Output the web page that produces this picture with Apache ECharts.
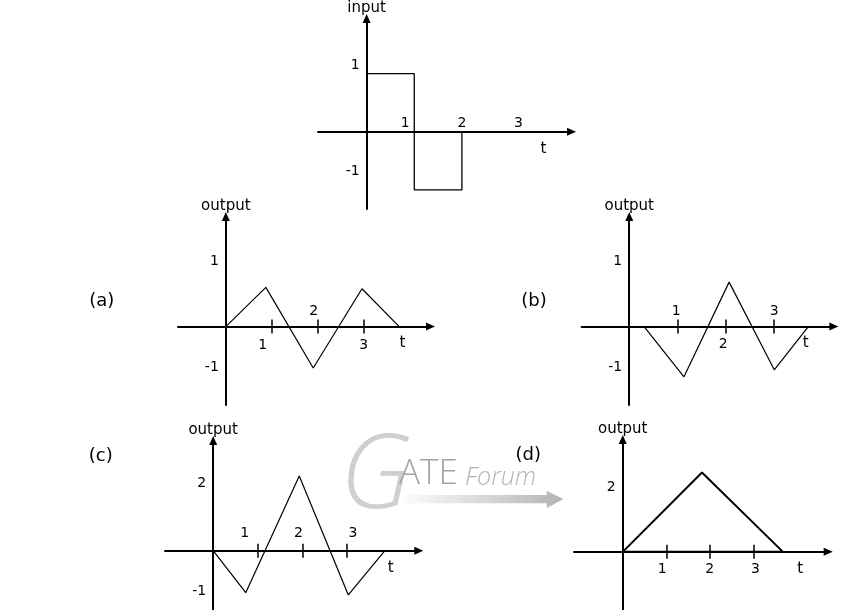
<!DOCTYPE html>
<html><head><meta charset="utf-8">
<script src="https://cdn.jsdelivr.net/npm/echarts@6/dist/echarts.min.js"></script>
<style>html,body{margin:0;padding:0;background:#fff}#c{width:851px;height:610px}</style>
</head><body><div id="c"></div>
<script>
// ---- data ----
const inputT = [0, 0, 1, 1, 2, 2];
const inputV = [0, 1, 1, -1, -1, 0];
const aT = [0, 0.87, 1.90, 2.96, 3.77];
const aV = [0, 0.89, -0.94, 0.86, 0];
const bT = [0.31, 1.14, 2.08, 3.02, 3.73];
const bV = [0, -1.14, 1.01, -0.98, 0];
const cT = [0, 0.73, 1.93, 3.03, 3.85];
const cV = [0, -1.09, 1.94, -1.15, 0];
const dT = [0, 1.82, 3.68, 0];
const dV = [0, 2.0, 0, 0];
const tTicks = [1, 2, 3];
const inputYTicks = [1, -1];
const aYTicks = [1, -1];
const bYTicks = [1, -1];
const cYTicks = [2, -1];
const dYTicks = [2];
const inputAbove = [1, 2, 3], inputBelow = [];
const aAbove = [2], aBelow = [1, 3];
const bAbove = [1, 3], bBelow = [2];
const cAbove = [1, 2, 3], cBelow = [];
const dAbove = [], dBelow = [1, 2, 3];
const panelLabels = ['(a)', '(b)', '(c)', '(d)'];
const yNames = ['input', 'output', 'output', 'output', 'output'];
const xName = 't';
const watermark = ['G', 'ATE', 'Forum'];

// ---- layout / style ----
const FONT = '"DejaVu Sans", Verdana, sans-serif';
const FS = 14;
const panels = [
  {grid:{left:318, top:18.5, width:253.5, height:190.5}, x:[-1.02, 4.30], y:[-1.33, 1.95],
   T:inputT, V:inputV, yTicks:inputYTicks, above:inputAbove, below:inputBelow, ticks:false,
   shift:{p:-8, n:-18}, xShift:{1:-9, 2:0, 3:9}, aboveMargin:1, belowMargin:12, lw:1.3},
  {grid:{left:178, top:216.5, width:252.5, height:188.5}, x:[-1.04, 4.45], y:[-1.78, 2.50],
   T:aT, V:aV, yTicks:aYTicks, above:aAbove, below:aBelow, ticks:true,
   shift:{p:-21, n:-3}, xShift:{1:-9, 2:-4, 3:0}, aboveMargin:8, belowMargin:12, lw:1.2},
  {grid:{left:581.7, top:216.5, width:252.1, height:188.5}, x:[-0.99, 4.26], y:[-1.78, 2.50],
   T:bT, V:bV, yTicks:bYTicks, above:bAbove, below:bBelow, ticks:true,
   shift:{p:-21, n:-3}, xShift:{1:-1, 2:-2, 3:1}, aboveMargin:8, belowMargin:11, lw:1.2},
  {grid:{left:165, top:440.5, width:253.8, height:174.5}, x:[-1.08, 4.61], y:[-1.67, 2.86],
   T:cT, V:cV, yTicks:cYTicks, above:cAbove, below:cBelow, ticks:true,
   shift:{p:10, n:2}, xShift:{1:-13, 2:-4, 3:6}, aboveMargin:10, belowMargin:10, lw:1.2},
  {grid:{left:574, top:439.5, width:254.2, height:175.5}, x:[-1.12, 4.72], y:[-1.59, 2.83],
   T:dT, V:dV, yTicks:dYTicks, above:dAbove, below:dBelow, ticks:true,
   shift:{p:15, n:0}, xShift:{1:-4, 2:0, 3:2}, aboveMargin:10, belowMargin:10, lw:2}
];
const labelPos = [[101.7, 301.7], [534, 301.7], [100.7, 456], [528.3, 455]];

function pad(d) { return d < 0 ? [0, 0, -2 * d, 0] : [2 * d, 0, 0, 0]; }
function hpad(d) { return d < 0 ? [0, -2 * d, 0, 0] : [0, 0, 0, 2 * d]; }
const txt = {color:'#000', fontSize:FS, fontFamily:FONT};
const nameTxt = {color:'#000', fontSize:15, fontFamily:FONT};
const axisLineStyle = {color:'#000', width:2};

const grids = [], xAxes = [], yAxes = [], series = [];
panels.forEach((p, i) => {
  const g = p.grid;
  // pixel position of the zero lines inside the grid (axes are moved there by offset)
  const zeroY = g.top + g.height * p.y[1] / (p.y[1] - p.y[0]);
  const zeroX = g.left + g.width * (-p.x[0]) / (p.x[1] - p.x[0]);
  const offBottom = zeroY - (g.top + g.height);
  const offTop = g.top - zeroY;
  const offLeft = g.left - zeroX;
  const xRich = {};
  tTicks.forEach(v => { xRich['s' + v] = Object.assign({padding:hpad(p.xShift[v] || 0)}, txt); });
  const xFmt = (v) => '{s' + v + '|' + v + '}';
  grids.push(Object.assign({containLabel:false, outerBoundsMode:'none'}, g));
  xAxes.push({
    type:'value', gridIndex:i, min:p.x[0], max:p.x[1], position:'bottom', offset:offBottom,
    axisLine:{onZero:false, lineStyle:axisLineStyle, symbol:['none','triangle'], symbolSize:[8,9]},
    axisTick:{show:p.ticks, customValues:tTicks, length:7, lineStyle:{color:'#000', width:1.5}},
    axisLabel:Object.assign({show:p.below.length > 0, customValues:p.below, margin:p.belowMargin,
      formatter:xFmt, rich:xRich}, txt),
    splitLine:{show:false},
    name:'{t|' + xName + '}', nameLocation:'end', nameGap:-28,
    nameTextStyle:Object.assign({align:'center', verticalAlign:'middle',
      rich:{t:Object.assign({padding:[34,0,0,0]}, nameTxt)}}, nameTxt)
  });
  xAxes.push({
    type:'value', gridIndex:i, min:p.x[0], max:p.x[1], position:'top', offset:offTop,
    axisLine:{show:false, onZero:false},
    axisTick:{show:p.ticks, customValues:tTicks, length:7, lineStyle:{color:'#000', width:1.5}},
    axisLabel:Object.assign({show:p.above.length > 0, customValues:p.above, margin:p.aboveMargin,
      formatter:xFmt, rich:xRich}, txt),
    splitLine:{show:false}
  });
  yAxes.push({
    type:'value', gridIndex:i, min:p.y[0], max:p.y[1], position:'left', offset:offLeft,
    axisLine:{onZero:false, lineStyle:axisLineStyle, symbol:['none','triangle'], symbolSize:[8,9]},
    axisTick:{show:false},
    axisLabel:Object.assign({customValues:p.yTicks, margin:7,
      formatter:(v) => (v > 0 ? '{p|' : '{n|') + v + '}',
      rich:{p:Object.assign({padding:pad(p.shift.p)}, txt), n:Object.assign({padding:pad(p.shift.n)}, txt)}
    }, txt),
    splitLine:{show:false},
    name:yNames[i], nameLocation:'end', nameGap:3,
    nameTextStyle:nameTxt
  });
  series.push({
    type:'line', xAxisIndex:2 * i, yAxisIndex:i,
    data:p.T.map((t, k) => [t, p.V[k]]),
    showSymbol:false, symbol:'none', z:5,
    lineStyle:{color:'#000', width:p.lw}
  });
});

const graphics = panelLabels.map((s, k) => ({
  type:'text', x:labelPos[k][0], y:labelPos[k][1], z:10,
  style:{text:s, font:'18px ' + FONT, fill:'#000', align:'center', verticalAlign:'middle'}
}));
graphics.push(
  {type:'polygon', z:-1, shape:{points:[[397,495],[546.7,495],[546.7,490.7],[563.3,499],[546.7,508.3],[546.7,503.3],[397,503.3]]},
   style:{fill:{type:'linear', x:0, y:0, x2:1, y2:0, colorStops:[{offset:0, color:'#ffffff'}, {offset:1, color:'#b4b4b4'}]}}},
  {type:'text', x:340, y:478, z:-1, style:{text:watermark[0], font:'italic 100 104px "Open Sans"', fill:'#cfcfcf', align:'left', verticalAlign:'middle'}},
  {type:'text', x:399, y:474, z:-1, style:{text:watermark[1], font:'300 35px "Open Sans"', fill:'#a4a4a4', align:'left', verticalAlign:'middle'}},
  {type:'text', x:465, y:478, z:-1, style:{text:watermark[2], font:'italic 300 25px "Open Sans"', fill:'#b4b4b4', align:'left', verticalAlign:'middle'}}
);

const chart = echarts.init(document.getElementById('c'), null, {renderer:'canvas'});
chart.setOption({
  animation:false,
  backgroundColor:'#fff',
  grid:grids, xAxis:xAxes, yAxis:yAxes, series:series,
  graphic:graphics
});
</script></body></html>
